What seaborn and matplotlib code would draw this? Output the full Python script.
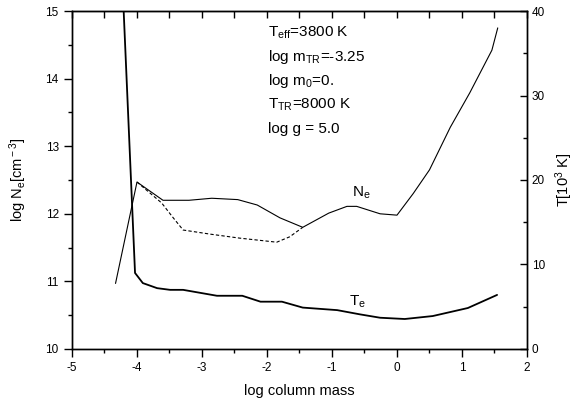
import matplotlib
matplotlib.use("Agg")
import matplotlib.pyplot as plt
import pandas as pd
import seaborn as sns
from matplotlib.ticker import MultipleLocator

# electron density, solid and dashed variants (left axis)
ne_x = [-4.33, -4.0, -3.6, -3.2, -2.85, -2.45, -2.15, -1.8, -1.45, -1.05, -0.77, -0.62, -0.26, 0.0, 0.25, 0.5, 0.82, 1.12, 1.46, 1.55]
ne_y = [10.97, 12.47, 12.20, 12.20, 12.23, 12.21, 12.13, 11.94, 11.80, 12.01, 12.11, 12.11, 12.00, 11.98, 12.30, 12.65, 13.28, 13.79, 14.42, 14.75]

ne2_x = [-4.0, -3.62, -3.45, -3.29, -2.88, -2.42, -1.85, -1.65, -1.45]
ne2_y = [12.47, 12.16, 11.95, 11.76, 11.70, 11.64, 11.58, 11.66, 11.80]

# electron temperature in 10^3 K (right axis)
te_x = [-4.25, -4.03, -3.91, -3.69, -3.49, -3.29, -2.77, -2.38, -2.1, -1.77, -1.45, -0.92, -0.57, -0.26, 0.12, 0.55, 1.09, 1.54]
te_y = [48.0, 9.0, 7.8, 7.2, 7.0, 7.0, 6.3, 6.3, 5.6, 5.6, 4.9, 4.6, 4.1, 3.7, 3.55, 3.9, 4.85, 6.4]

info_lines = [r"T$_{\rm eff}$=3800 K", r"log m$_{\rm TR}$=-3.25", r"log m$_{\rm 0}$=0.",
              r"T$_{\rm TR}$=8000 K", "log g = 5.0"]
info_y = [14.615, 14.26, 13.905, 13.55, 13.195]

sns.set_style("ticks")
plt.rcParams["font.family"] = ["Liberation Sans", "DejaVu Sans"]
plt.rcParams["mathtext.fontset"] = "custom"
plt.rcParams["mathtext.rm"] = "Liberation Sans"
plt.rcParams["mathtext.it"] = "Liberation Sans:italic"
plt.rcParams["axes.unicode_minus"] = False
for key in ["text.color", "axes.labelcolor", "xtick.color", "ytick.color", "axes.edgecolor"]:
    plt.rcParams[key] = "black"

fig = plt.figure(figsize=(5.74, 4.03), dpi=100)
ax = fig.add_axes([0.1254, 0.134, 0.7927, 0.8387])
ax2 = ax.twinx()

ne = pd.DataFrame({"x": ne_x, "y": ne_y})
ne2 = pd.DataFrame({"x": ne2_x, "y": ne2_y})
te = pd.DataFrame({"x": te_x, "y": te_y})

sns.lineplot(data=ne, x="x", y="y", ax=ax, color="black", lw=0.8, sort=False)
sns.lineplot(data=ne2, x="x", y="y", ax=ax, color="black", lw=0.8, linestyle=(0, (3, 2)), sort=False)
sns.lineplot(data=te, x="x", y="y", ax=ax2, color="black", lw=1.3, sort=False)

ax.set_xlim(-5, 2)
ax.set_ylim(10, 15)
ax2.set_ylim(0, 40)

ax.xaxis.set_major_locator(MultipleLocator(1))
ax.xaxis.set_minor_locator(MultipleLocator(0.5))
ax.yaxis.set_major_locator(MultipleLocator(1))
ax.yaxis.set_minor_locator(MultipleLocator(0.5))
ax2.yaxis.set_major_locator(MultipleLocator(10))
ax2.yaxis.set_minor_locator(MultipleLocator(5))

ax.tick_params(which="both", direction="out", labelsize=8.5, width=1.0)
ax.tick_params(which="major", length=6)
ax.tick_params(which="minor", length=3)
ax2.tick_params(which="both", direction="in", labelsize=8.5, width=1.0)
ax2.tick_params(which="major", length=5)
ax2.tick_params(which="minor", length=3)

# top axis ticks point into the plot
top = ax.secondary_xaxis("top")
top.xaxis.set_major_locator(MultipleLocator(0.5))
top.tick_params(direction="in", length=5, width=1.0, labeltop=False)

for a in (ax, ax2):
    for s in a.spines.values():
        s.set_visible(True)
        s.set_linewidth(1.0)

ax.set_xlabel("log column mass", fontsize=10.5, labelpad=7)
ax.set_ylabel(r"log N$_{\rm e}$[cm$^{\rm -3}$]", fontsize=10.5, labelpad=12)
ax2.set_ylabel(r"T[10$^{\rm 3}$ K]", fontsize=10.5, labelpad=6)

for txt, yy in zip(info_lines, info_y):
    ax.text(-1.98, yy, txt, fontsize=11, va="baseline", ha="left")

ax.text(-0.69, 12.25, r"N$_{\rm e}$", fontsize=11, va="baseline", ha="left")
ax.text(-0.74, 10.636, r"T$_{\rm e}$", fontsize=11, va="baseline", ha="left")

fig.savefig("out.png", dpi=100)
